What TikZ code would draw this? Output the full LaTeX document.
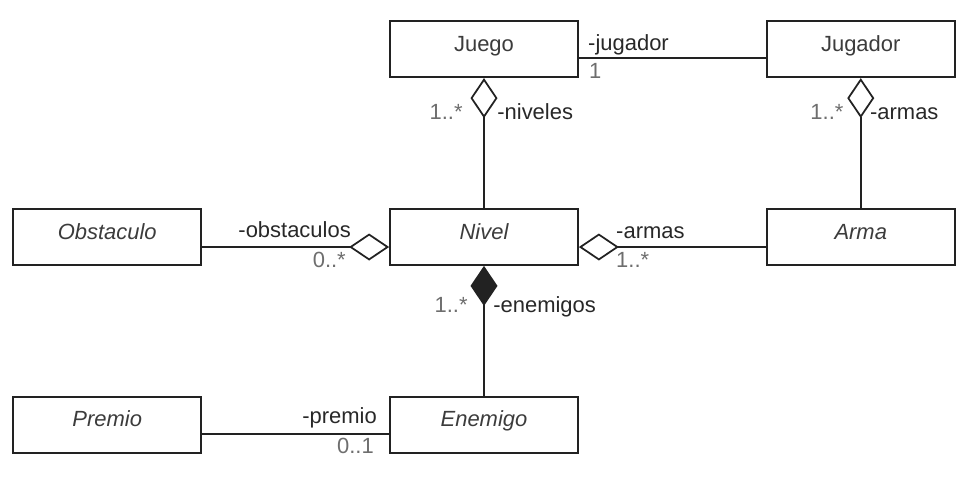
\documentclass[tikz,border=0pt]{standalone}
\usepackage{fontspec}
\setmainfont{Liberation Sans}
\usepackage{tikz}
\usetikzlibrary{arrows.meta, positioning}
\definecolor{edgegray}{RGB}{34, 34, 34}
\definecolor{namegray}{RGB}{60, 60, 60}
\definecolor{rolegray}{RGB}{40, 40, 40}
\definecolor{multgray}{RGB}{110, 110, 110}
\newcommand{\umlfont}{\fontsize{12.5}{15}\selectfont}

\begin{document}
\begin{tikzpicture}[
			node distance=2.6cm and 3.74cm,
			umlclass/.style={rectangle, draw=edgegray, line width=1pt, minimum width=3.76cm, minimum height=1.12cm, text height=0.3cm, text depth=0.22cm, font=\umlfont, text=namegray},
			abstract/.style={umlclass, font=\umlfont\itshape},
			assoc/.style={draw=edgegray, line width=1pt},
			agg/.style={assoc, {Diamond[open, length=0.8cm, width=0.54cm]}-},
			comp/.style={assoc, {Diamond[length=0.8cm, width=0.54cm]}-},
			role/.style={font=\umlfont, text=rolegray, inner sep=0pt},
			mult/.style={font=\umlfont, text=multgray, inner sep=0pt}
		]
		\useasboundingbox (-9.68, -4.98) rectangle (9.9, 4.74);
		
		\node[abstract] (nivel) {Nivel};
		\node[umlclass, above=of nivel] (juego) {Juego};
		\node[umlclass, right=of juego] (jugador) {Jugador};
		\node[abstract, left=of nivel] (obstaculo) {Obstaculo};
		\node[abstract, right=of nivel] (arma) {Arma};
		\node[abstract, below=of nivel] (enemigo) {Enemigo};
		\node[abstract, left=of enemigo] (premio) {Premio};
		
		\draw[assoc] ([yshift=-0.18cm]juego.east) -- ([yshift=-0.18cm]jugador.west);
		\draw[agg] (juego.south) -- (nivel.north);
		\draw[agg] (jugador.south) -- (arma.north);
		\draw[agg] ([yshift=-0.2cm]nivel.west) -- ([yshift=-0.2cm]obstaculo.east);
		\draw[agg] ([yshift=-0.2cm]nivel.east) -- ([yshift=-0.2cm]arma.west);
		\draw[comp] (nivel.south) -- (enemigo.north);
		\draw[assoc] ([yshift=-0.18cm]enemigo.west) -- ([yshift=-0.18cm]premio.east);
		
		% Roles and multiplicities
		\node[role, anchor=base west] (rjugador) at ([xshift=0.18cm, yshift=-0.02cm]juego.east) {-jugador};
		\node[mult, anchor=base west] (mjugador) at ([xshift=0.2cm, yshift=-0.58cm]juego.east) {1};
		\node[mult, anchor=base east] (mniveles) at ([xshift=-0.42cm, yshift=-0.82cm]juego.south) {1..*};
		\node[role, anchor=base west] (rniveles) at ([xshift=0.26cm, yshift=-0.82cm]juego.south) {-niveles};
		\node[mult, anchor=base east] (marmasj) at ([xshift=-0.34cm, yshift=-0.82cm]jugador.south) {1..*};
		\node[role, anchor=base west] (rarmasj) at ([xshift=0.18cm, yshift=-0.82cm]jugador.south) {-armas};
		\node[role, anchor=base east] (robst) at ([xshift=-0.76cm]nivel.west) {-obstaculos};
		\node[mult, anchor=base east] (mobst) at ([xshift=-0.86cm, yshift=-0.6cm]nivel.west) {0..*};
		\node[role, anchor=base west] (rarmasn) at ([xshift=0.74cm, yshift=-0.02cm]nivel.east) {-armas};
		\node[mult, anchor=base west] (marmasn) at ([xshift=0.74cm, yshift=-0.6cm]nivel.east) {1..*};
		\node[mult, anchor=base east] (menem) at ([xshift=-0.32cm, yshift=-0.94cm]nivel.south) {1..*};
		\node[role, anchor=base west] (renem) at ([xshift=0.18cm, yshift=-0.94cm]nivel.south) {-enemigos};
		\node[role, anchor=base east] (rpremio) at ([xshift=-0.24cm, yshift=0.02cm]enemigo.west) {-premio};
		\node[mult, anchor=base east] (mpremio) at ([xshift=-0.3cm, yshift=-0.58cm]enemigo.west) {0..1};
		\end{tikzpicture}
\end{document}
